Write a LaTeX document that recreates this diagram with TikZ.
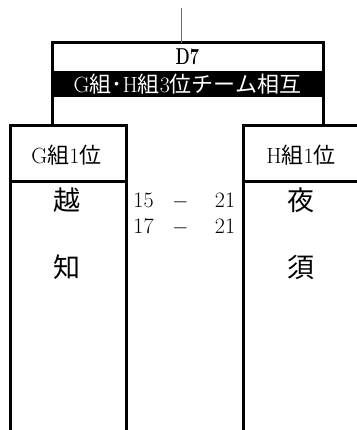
\documentclass[tikz,border=0pt]{standalone}
\usepackage{fontspec}
\newfontfamily\cjk{Noto Sans CJK JP}
\definecolor{linkblue}{RGB}{68,114,196}
\begin{document}
\begin{tikzpicture}[x=1pt,y=-1pt,
  frame/.style={draw=black,line width=3pt},
  boxnode/.style={frame,inner sep=0pt,outer sep=0pt},
  lbl/.style={inner sep=0pt,font=\fontsize{22}{24}\selectfont},
  big/.style={inner sep=0pt,font=\fontsize{27}{30}\selectfont\cjk},
  score/.style={inner sep=0pt,anchor=base,font=\fontsize{22}{24}\selectfont}]
\useasboundingbox (0,0) rectangle (356,430);
% band
\fill[black] (52,71) rectangle (323,97);
% team boxes
\node[boxnode,minimum width=116pt,minimum height=56pt] (gh) at (68,154) {};
\node[boxnode,minimum width=116pt,minimum height=260pt] (gb) at (68,312) {};
\node[boxnode,minimum width=130pt,minimum height=56pt] (hh) at (308,154) {};
\node[boxnode,minimum width=130pt,minimum height=260pt] (hb) at (308,312) {};
% match frame
\coordinate (mtl) at (52,43);
\coordinate (mtr) at (323,43);
\coordinate (gl) at (52,126);
\coordinate (hl) at (323,126);
\coordinate (top) at (181.5,8);
\coordinate (mtop) at (181.5,43);
\draw[frame,line join=miter] (gl) -- (mtl) -- (mtr) -- (hl);
\draw[linkblue,line width=1pt] (top) -- (mtop);
% texts
\node[inner sep=0pt,font=\fontsize{23}{24}\selectfont\bfseries] (d7) at (187.5,57) {\scalebox{0.72}[1]{D7}};
\node[lbl,text=white] (band) at (187.5,84) {G{\cjk 組･}H{\cjk 組}3{\cjk 位チーム相互}};
\node[lbl] (gt) at (66.5,155) {G{\cjk 組}1{\cjk 位}};
\node[lbl] (ht) at (301,155) {H{\cjk 組}1{\cjk 位}};
\node[big] (g1) at (67,200) {越};
\node[big] (g2) at (67,267) {知};
\node[big] (h1) at (301,200) {夜};
\node[big] (h2) at (301,267) {須};
\node[score] (s1a) at (143.5,207) {15};
\node[score] (s1d) at (180.5,207) {$-$};
\node[score] (s1b) at (225,207) {21};
\node[score] (s2a) at (143.5,233) {17};
\node[score] (s2d) at (180.5,233) {$-$};
\node[score] (s2b) at (225,233) {21};
\end{tikzpicture}
\end{document}
